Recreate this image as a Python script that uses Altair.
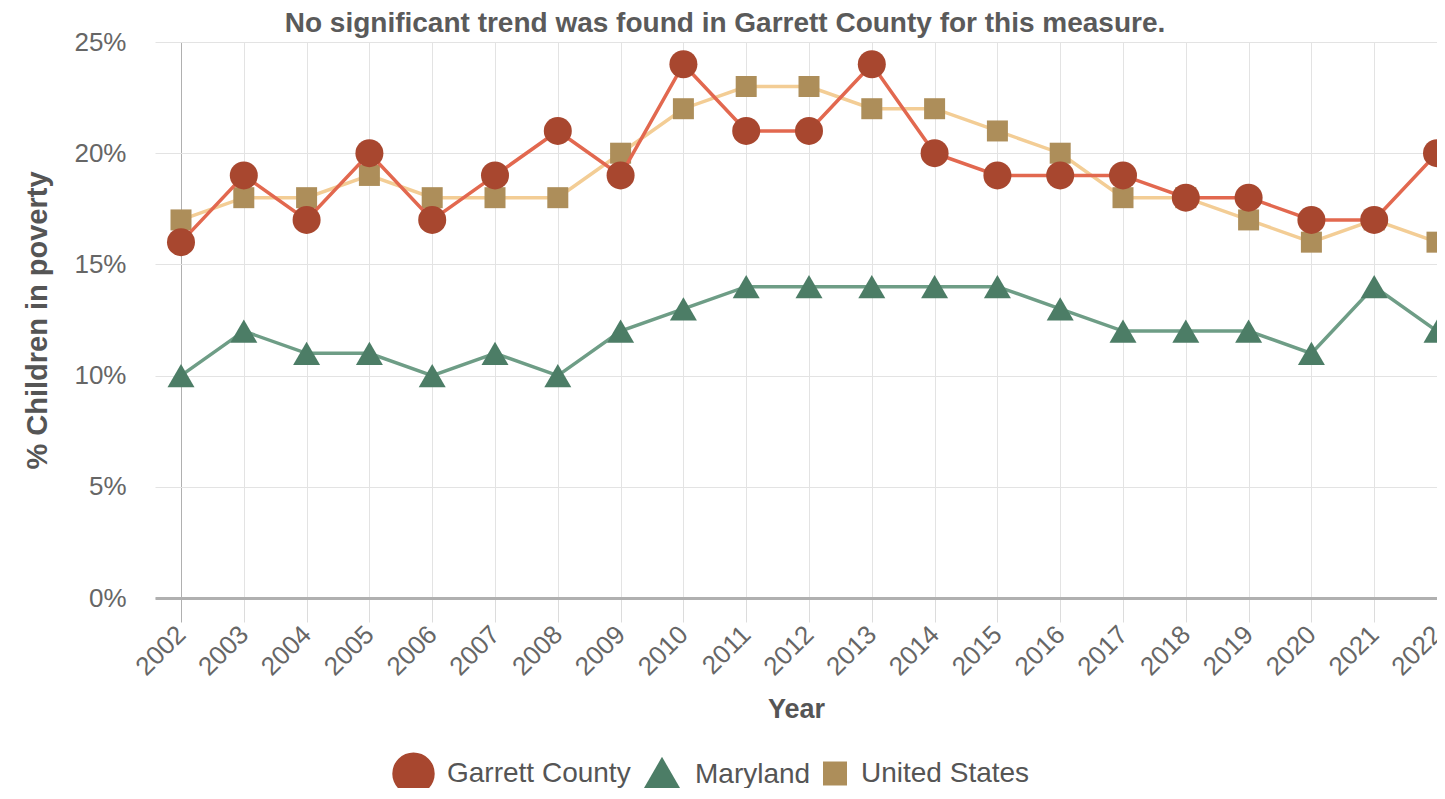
import altair as alt
import pandas as pd

years = list(range(2002, 2023))
garrett = [16, 19, 17, 20, 17, 19, 21, 19, 24, 21, 21, 24, 20, 19, 19, 19, 18, 18, 17, 17, 20]
maryland = [10, 12, 11, 11, 10, 11, 10, 12, 13, 14, 14, 14, 14, 14, 13, 12, 12, 12, 11, 14, 12]
united_states = [17, 18, 18, 19, 18, 18, 18, 20, 22, 23, 23, 22, 22, 21, 20, 18, 18, 17, 16, 17, 16]
series_names = ["Garrett County", "Maryland", "United States"]
y_ticks = [0, 5, 10, 15, 20, 25]
title_text = "No significant trend was found in Garrett County for this measure."

point_colors = ["#a8472f", "#4c7d66", "#ad8e5a"]
line_colors = ["#e2684f", "#6e9d86", "#f3cd95"]
shapes = ["circle", "triangle-up", "square"]
sizes = [784, 729, 441]
legend_sizes = [1800, 1750, 576]

rows = []
for name, vals in zip(series_names, [garrett, maryland, united_states]):
    for yr, v in zip(years, vals):
        rows.append({"Year": yr, "Value": v, "Series": name})
df = pd.DataFrame(rows)

FONT = "Liberation Sans"

x_enc = alt.X(
    "Year:Q",
    scale=alt.Scale(domain=[2001.586, 2022], nice=False, zero=False),
    axis=alt.Axis(
        values=years,
        format="d",
        labelAngle=-45,
        labelAlign="right",
        labelBaseline="middle",
        labelFontSize=26,
        labelColor="#666666",
        labelPadding=8,
        labelOverlap=False,
        labelFlush=False,
        tickSize=24,
        tickColor={"condition": {"test": "datum.value === 2002", "value": "#b0b0b0"}, "value": "#dcdcdc"},
        domainColor="#b0b0b0",
        domainWidth=3,
        grid=True,
        gridColor={"condition": {"test": "datum.value === 2002", "value": "#b0b0b0"}, "value": "#e3e3e3"},
        title="Year",
        titleFontSize=27,
        titleFontWeight="bold",
        titleColor="#555555",
        titlePadding=16,
    ),
)

y_enc = alt.Y(
    "Value:Q",
    scale=alt.Scale(domain=[0, 25], nice=False),
    axis=alt.Axis(
        values=y_ticks,
        labelExpr="datum.value + '%'",
        domain=False,
        ticks=False,
        labelPadding=29,
        labelFontSize=26,
        labelColor="#666666",
        gridColor="#e3e3e3",
        title="% Children in poverty",
        titleFontSize=29,
        titleFontWeight="bold",
        titleColor="#555555",
        titlePadding=21,
    ),
)

leg = alt.Legend(
    title=None,
    orient="none",
    legendX=237,
    legendY=710,
    direction="horizontal",
    symbolStrokeWidth=0,
    labelFontSize=28,
    labelColor="#555555",
    labelOffset=12,
    labelLimit=400,
    columnPadding=10,
    symbolOpacity=1,
)

color_enc = alt.Color("Series:N", scale=alt.Scale(domain=series_names, range=point_colors), legend=leg)
shape_enc = alt.Shape("Series:N", scale=alt.Scale(domain=series_names, range=shapes), legend=leg)
size_enc = alt.Size(
    "Series:N", scale=alt.Scale(type="ordinal", domain=series_names, range=legend_sizes), legend=leg
)

base = alt.Chart(df)
layers = []
for idx in [2, 1, 0]:
    name = series_names[idx]
    sub = base.transform_filter(alt.datum.Series == name)
    layers.append(
        sub.mark_line(color=line_colors[idx], strokeWidth=3.5, clip=True).encode(x=x_enc, y=y_enc)
    )
    layers.append(
        sub.mark_point(filled=True, opacity=1, size=sizes[idx], clip=True).encode(
            x=x_enc, y=y_enc, color=color_enc, shape=shape_enc
        )
    )

# empty layer that only carries the legend symbol sizes
legend_layer = base.transform_filter(alt.datum.Value < 0).mark_point(filled=True, opacity=1).encode(
    x=x_enc, y=y_enc, color=color_enc, shape=shape_enc, size=size_enc
)
layers.append(legend_layer)

chart = (
    alt.layer(*layers)
    .properties(
        width=1282,
        height=556,
        padding={"left": 147, "top": 34, "right": 0, "bottom": 190},
        autosize=alt.AutoSizeParams(type="none"),
        title=alt.TitleParams(
            title_text,
            fontSize=28,
            fontWeight="bold",
            color="#5a5a5a",
            anchor="middle",
            dx=-71,
            dy=17,
            offset=8,
        ),
    )
    .configure(font=FONT)
    .configure_view(stroke=None)
)

chart.save("out.html", embed_options={"renderer": "svg", "actions": False})
